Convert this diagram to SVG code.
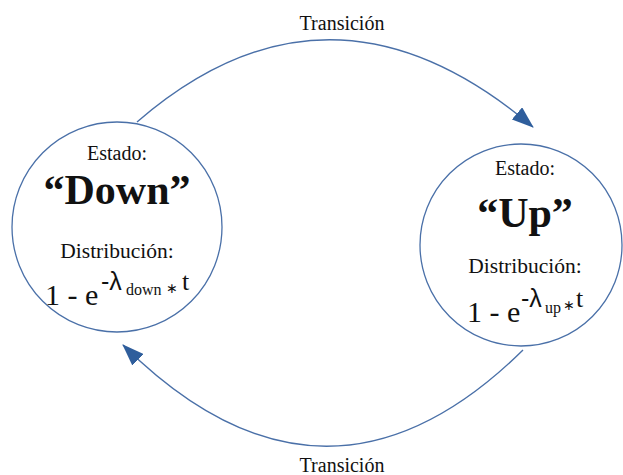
<svg xmlns="http://www.w3.org/2000/svg" width="623" height="475" viewBox="0 0 623 475">
<style>
.node{fill:#fff;stroke:#4a70a8;stroke-width:1.3}
.edge{fill:none;stroke:#4a70a8;stroke-width:1.4}
.serif{font-family:"Liberation Serif","Times New Roman",serif;fill:#111}
.sans{font-family:"Liberation Sans",Arial,sans-serif;fill:#111}
.lbl{font-size:20px;text-anchor:middle}
.dist{font-size:21.5px;text-anchor:middle}
.big{font-size:42px;font-weight:bold;text-anchor:middle}
.f1{font-size:30px}
.fl{font-size:25px}
.fs{font-size:16px}
.fa{font-size:14px}
.ft{font-size:26px}
</style>
<defs>
<marker id="arr" markerWidth="22" markerHeight="16" refX="21" refY="8" orient="auto" markerUnits="userSpaceOnUse" viewBox="0 0 22 16">
<path d="M0,0 L22,8 L0,16 Z" fill="#2f5e9c"/>
</marker>
</defs>
<rect width="623" height="475" fill="#fff"/>
<g id="connectors">
<path class="edge" d="M137,122 Q330,-45 533,127" marker-end="url(#arr)"/>
<path class="edge" d="M523,350 Q325,545 123,345" marker-end="url(#arr)"/>
<text class="serif lbl" x="342" y="30">Transición</text>
<text class="serif lbl" x="342" y="472">Transición</text>
</g>
<g id="down">
<circle class="node" cx="117" cy="227" r="105"/>
<text class="serif lbl" x="117" y="160">Estado:</text>
<text class="serif big" x="117" y="204">“Down”</text>
<text class="serif dist" x="117" y="258">Distribución:</text>
<text class="serif f1" x="45" y="305">1 - e<tspan class="sans fl" x="101" y="290">-λ</tspan><tspan class="serif fs" x="126" y="295">down</tspan><tspan class="sans fa" x="166" y="293">∗</tspan><tspan class="serif ft" x="182" y="290">t</tspan></text>
</g>
<g id="up">
<circle class="node" cx="521" cy="245" r="101"/>
<text class="serif lbl" x="525" y="175">Estado:</text>
<text class="serif big" x="525" y="227">“Up”</text>
<text class="serif dist" x="525" y="273">Distribución:</text>
<text class="serif f1" x="467" y="322">1 - e<tspan class="sans fl" x="521" y="307">-λ</tspan><tspan class="serif fs" x="545" y="313">up</tspan><tspan class="sans fa" x="563" y="310">∗</tspan><tspan class="serif ft" x="576" y="307">t</tspan></text>
</g>
</svg>
